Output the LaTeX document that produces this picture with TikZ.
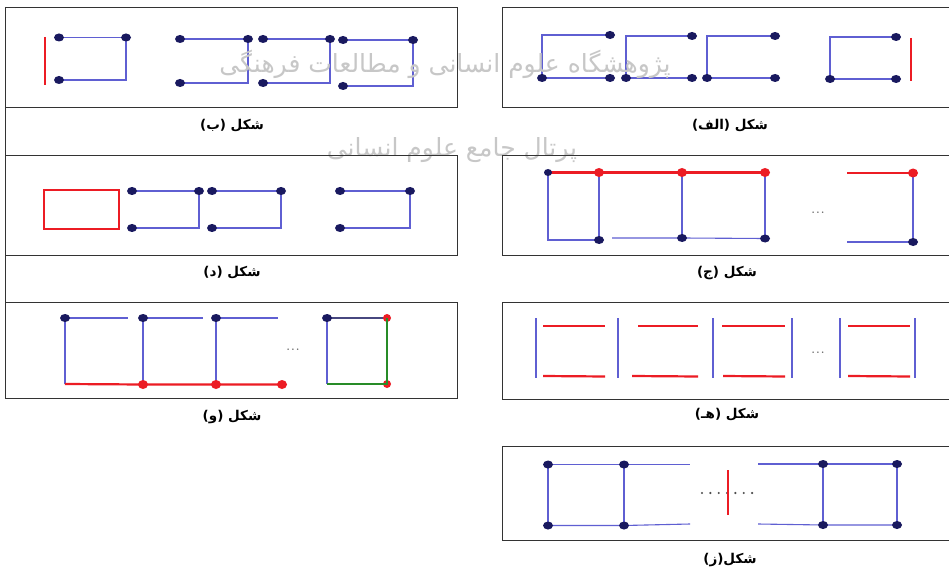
\documentclass[tikz,border=0pt]{standalone}
\usepackage{fontspec}
\usetikzlibrary{shapes.geometric}
\TeXXeTstate=1
\newfontfamily\arabicfont[Script=Arabic]{DejaVu Sans}
\newfontfamily\latinsans{DejaVu Sans}
\newcommand{\lp}{{\latinsans\bfseries(}}
\newcommand{\rp}{{\latinsans\bfseries)}}
\definecolor{lnblue}{RGB}{95,95,210}
\definecolor{navy}{RGB}{25,25,95}
\definecolor{rred}{RGB}{236,28,36}
\definecolor{ggreen}{RGB}{40,140,40}
\pgfdeclarelayer{bg}
\pgfsetlayers{bg,main}
\tikzset{
  frame/.style={draw=black!80, line width=0.9pt},
  bl/.style={draw=lnblue, line width=1.1pt},
  rd/.style={draw=rred, line width=2.2pt},
  gr/.style={draw=ggreen, line width=1.6pt},
  dot/.style={ellipse, fill=navy, minimum width=10pt, minimum height=8pt, inner sep=0pt},
  rdot/.style={ellipse, fill=rred, minimum width=10pt, minimum height=9pt, inner sep=0pt},
  lab/.style={font=\arabicfont\bfseries\fontsize{13.5}{15}\selectfont, inner sep=0pt},
  ell/.style={text=black!60, font=\fontsize{19}{19}\selectfont, inner sep=0pt},
  wm/.style={text=black!22, font=\arabicfont\fontsize{25}{28}\selectfont, inner sep=0pt}
}
\begin{document}
\begin{tikzpicture}[x=1pt,y=-1pt]
\useasboundingbox (0,0) rectangle (949,569);
\begin{pgfonlayer}{bg}
\fill[white] (0,0) rectangle (949,569);
\end{pgfonlayer}

% watermark
\node[wm] (wm1) at (445,64) {\beginR پژوهشگاه علوم انسانی و مطالعات فرهنگی\endR};
\node[wm] (wm2) at (452,150) {\beginR پرتال جامع علوم انسانی\endR};

% ---------- frames, left column ----------
\draw[frame] (5,7) -- (457,7) -- (457,107) -- (5,107);
\draw[frame] (5,155) -- (457,155) -- (457,255) -- (5,255);
\draw[frame] (5,302) -- (457,302) -- (457,398) -- (5,398);
\draw[frame] (5,7) -- (5,398);
% ---------- frames, right column ----------
\draw[frame] (949,7) -- (502,7) -- (502,107) -- (949,107);
\draw[frame] (949,155) -- (502,155) -- (502,255) -- (949,255);
\draw[frame] (949,302) -- (502,302) -- (502,399) -- (949,399);
\draw[frame] (949,446) -- (502,446) -- (502,540) -- (949,540);

% ---------- labels ----------
\node[lab] (lalef) at (730,126) {\lp\beginR الف\endR\rp{} \beginR شکل\endR};
\node[lab] (lbe) at (232,126) {\lp\beginR ب\endR\rp{} \beginR شکل\endR};
\node[lab] (ldal) at (232,273) {\lp\beginR د\endR\rp{} \beginR شکل\endR};
\node[lab] (ljim) at (727,273) {\lp\beginR ج\endR\rp{} \beginR شکل\endR};
\node[lab] (lvav) at (232,417) {\lp\beginR و\endR\rp{} \beginR شکل\endR};
\node[lab] (lhe) at (727,415) {\lp\beginR هـ\endR\rp{} \beginR شکل\endR};
\node[lab] (lze) at (730,560) {\lp\beginR ز\endR\rp\beginR شکل\endR};

% ---------- (alef) ----------
\coordinate (a1tl) at (542,35);
\node[dot] (a1tr) at (610,35) {};
\node[dot] (a1bl) at (542,78) {};
\node[dot] (a1br) at (610,78) {};
\coordinate (a2tl) at (626,36);
\node[dot] (a2tr) at (692,36) {};
\node[dot] (a2bl) at (626,78) {};
\node[dot] (a2br) at (692,78) {};
\coordinate (a3tl) at (707,36);
\node[dot] (a3tr) at (775,36) {};
\node[dot] (a3bl) at (707,78) {};
\node[dot] (a3br) at (775,78) {};
\coordinate (a4tl) at (830,37);
\node[dot] (a4tr) at (896,37) {};
\node[dot] (a4bl) at (830,79) {};
\node[dot] (a4br) at (896,79) {};
\coordinate (a4r1) at (911,38);
\coordinate (a4r2) at (911,81);
\begin{pgfonlayer}{bg}
\draw[bl] (a1tr.center) -- (a1tl) -- (a1bl.center) -- (a1br.center);
\draw[bl] (a2tr.center) -- (a2tl) -- (a2bl.center) -- (a2br.center);
\draw[bl] (a3tr.center) -- (a3tl) -- (a3bl.center) -- (a3br.center);
\draw[bl] (a4tr.center) -- (a4tl) -- (a4bl.center) -- (a4br.center);
\end{pgfonlayer}
\draw[rd] (a4r1) -- (a4r2);

% ---------- (be) ----------
\coordinate (b0a) at (45,37);
\coordinate (b0b) at (45,85);
\draw[rd] (b0a) -- (b0b);
\node[dot] (b1tl) at (59,37.5) {};
\node[dot] (b1tr) at (126,37.5) {};
\node[dot] (b1bl) at (59,80) {};
\coordinate (b1br) at (126,80);
\node[dot] (b2tl) at (180,39) {};
\node[dot] (b2tr) at (248,39) {};
\node[dot] (b2bl) at (180,83) {};
\coordinate (b2br) at (248,83);
\node[dot] (b3tl) at (263,39) {};
\node[dot] (b3tr) at (330,39) {};
\node[dot] (b3bl) at (263,83) {};
\coordinate (b3br) at (330,83);
\node[dot] (b4tl) at (343,40) {};
\node[dot] (b4tr) at (413,40) {};
\node[dot] (b4bl) at (343,86) {};
\coordinate (b4br) at (413,86);
\begin{pgfonlayer}{bg}
\draw[bl] (b1tl.center) -- (b1tr.center) -- (b1br) -- (b1bl.center);
\draw[bl] (b2tl.center) -- (b2tr.center) -- (b2br) -- (b2bl.center);
\draw[bl] (b3tl.center) -- (b3tr.center) -- (b3br) -- (b3bl.center);
\draw[bl] (b4tl.center) -- (b4tr.center) -- (b4br) -- (b4bl.center);
\end{pgfonlayer}

% ---------- (dal) ----------
\coordinate (d1a) at (44,190);
\coordinate (d1b) at (119,229);
\draw[draw=rred, line width=1.8pt] (d1a) rectangle (d1b);
\node[dot] (d2tl) at (132,191) {};
\node[dot] (d2tr) at (199,191) {};
\node[dot] (d2bl) at (132,228) {};
\coordinate (d2br) at (199,228);
\node[dot] (d3tl) at (212,191) {};
\node[dot] (d3tr) at (281,191) {};
\node[dot] (d3bl) at (212,228) {};
\coordinate (d3br) at (281,228);
\node[dot] (d4tl) at (340,191) {};
\node[dot] (d4tr) at (410,191) {};
\node[dot] (d4bl) at (340,228) {};
\coordinate (d4br) at (410,228);
\begin{pgfonlayer}{bg}
\draw[bl] (d2tl.center) -- (d2tr.center) -- (d2br) -- (d2bl.center);
\draw[bl] (d3tl.center) -- (d3tr.center) -- (d3br) -- (d3bl.center);
\draw[bl] (d4tl.center) -- (d4tr.center) -- (d4br) -- (d4bl.center);
\end{pgfonlayer}

% ---------- (jim) ----------
\node[dot, minimum width=8pt, minimum height=7pt] (c0t) at (548,172.5) {};
\node[rdot] (c1t) at (599,172.5) {};
\node[rdot] (c2t) at (682,172.5) {};
\node[rdot] (c3t) at (765,172.5) {};
\node[rdot] (c4t) at (913,173) {};
\coordinate (c0b) at (548,240);
\node[dot] (c1b) at (599,240) {};
\node[dot] (c2b) at (682,238) {};
\node[dot] (c3b) at (765,238.5) {};
\node[dot] (c4b) at (913,242) {};
\coordinate (c4tl) at (847,173);
\coordinate (c4bl) at (847,242);
\coordinate (c2s) at (612,238);
\node[ell] (cdots) at (818,213) {...};
\begin{pgfonlayer}{bg}
\draw[bl] (c0t.center) -- (c0b) -- (c1b.center);
\draw[bl] (c1t.center) -- (c1b.center);
\draw[bl] (c2t.center) -- (c2b.center);
\draw[bl] (c3t.center) -- (c3b.center);
\draw[bl] (c4t.center) -- (c4b.center);
\draw[bl] (c2s) -- (c2b.center) -- (c3b.center);
\draw[bl] (c4bl) -- (c4b.center);
\draw[rd] (c0t.center) -- (c1t.center) -- (c2t.center) -- (c3t.center);
\draw[rd] (c4tl) -- (c4t.center);
\end{pgfonlayer}

% ---------- (vav) ----------
\node[dot] (o1t) at (65,318) {};
\node[dot] (o2t) at (143,318) {};
\node[dot] (o3t) at (216,318) {};
\node[dot] (o4tl) at (327,318) {};
\node[rdot, minimum width=8pt, minimum height=8pt] (o4tr) at (387,318) {};
\coordinate (o1b) at (65,384);
\node[rdot] (o2b) at (143,384.5) {};
\node[rdot] (o3b) at (216,384.5) {};
\node[rdot] (o3e) at (282,384.5) {};
\coordinate (o4bl) at (327,384);
\node[rdot, minimum width=8pt, minimum height=8pt] (o4br) at (387,384) {};
\coordinate (o1e) at (128,318);
\coordinate (o2e) at (203,318);
\coordinate (o3f) at (278,318);
\node[ell] (odots) at (293,350) {...};
\begin{pgfonlayer}{bg}
\draw[bl] (o1t.center) -- (o1e);
\draw[bl] (o2t.center) -- (o2e);
\draw[bl] (o3t.center) -- (o3f);
\draw[bl] (o1t.center) -- (o1b);
\draw[bl] (o2t.center) -- (o2b.center);
\draw[bl] (o3t.center) -- (o3b.center);
\draw[draw=navy!80, line width=1.1pt] (o4tl.center) -- (o4tr.center);
\draw[bl] (o4tl.center) -- (o4bl);
\draw[rd] (o1b) -- (o2b.center) -- (o3b.center) -- (o3e.center);
\end{pgfonlayer}
\draw[gr] (o4bl) -- (o4br.center) -- (o4tr.center);

% ---------- (he) ----------
\foreach \i/\x in {1/536,2/618,3/713,4/792,5/840,6/915}{
  \coordinate (hv\i a) at (\x,318);
  \coordinate (hv\i b) at (\x,378);
  \draw[bl] (hv\i a) -- (hv\i b);
}
\foreach \i/\xa/\xb/\xc in {1/543/605/543,2/638/698/632,3/722/785/723,4/848/910/848}{
  \coordinate (ht\i a) at (\xa,326);
  \coordinate (ht\i b) at (\xb,326);
  \coordinate (hb\i a) at (\xc,376);
  \coordinate (hb\i b) at (\xb,376.5);
  \draw[rd] (ht\i a) -- (ht\i b);
  \draw[rd] (hb\i a) -- (hb\i b);
}
\node[ell] (hdots) at (818,353) {...};

% ---------- (ze) ----------
\node[dot] (z1t) at (548,464.5) {};
\node[dot] (z1b) at (548,525.5) {};
\node[dot] (z2t) at (624,464.5) {};
\node[dot] (z2b) at (624,525.5) {};
\node[dot] (z3t) at (823,464) {};
\node[dot] (z3b) at (823,525) {};
\node[dot] (z4t) at (897,464) {};
\node[dot] (z4b) at (897,525) {};
\coordinate (z2e) at (690,464.5);
\coordinate (z2f) at (690,524);
\coordinate (z3s) at (758,464);
\coordinate (z3f) at (758,524);
\coordinate (zd1) at (702,493);
\coordinate (zd2) at (752.1,493);
\coordinate (zr1) at (728,470);
\coordinate (zr2) at (728,515);
\begin{pgfonlayer}{bg}
\draw[bl] (z1t.center) -- (z2t.center) -- (z2e);
\draw[bl] (z1b.center) -- (z2b.center) -- (z2f);
\draw[bl] (z1t.center) -- (z1b.center);
\draw[bl] (z2t.center) -- (z2b.center);
\draw[bl] (z3s) -- (z3t.center) -- (z4t.center);
\draw[bl] (z3f) -- (z3b.center) -- (z4b.center);
\draw[bl] (z3t.center) -- (z3b.center);
\draw[bl] (z4t.center) -- (z4b.center);
\end{pgfonlayer}
\draw[black!70, line width=2.4pt, line cap=round, dash pattern=on 0pt off 8.35pt] (zd1) -- (zd2);
\draw[rd] (zr1) -- (zr2);
\end{tikzpicture}
\end{document}
